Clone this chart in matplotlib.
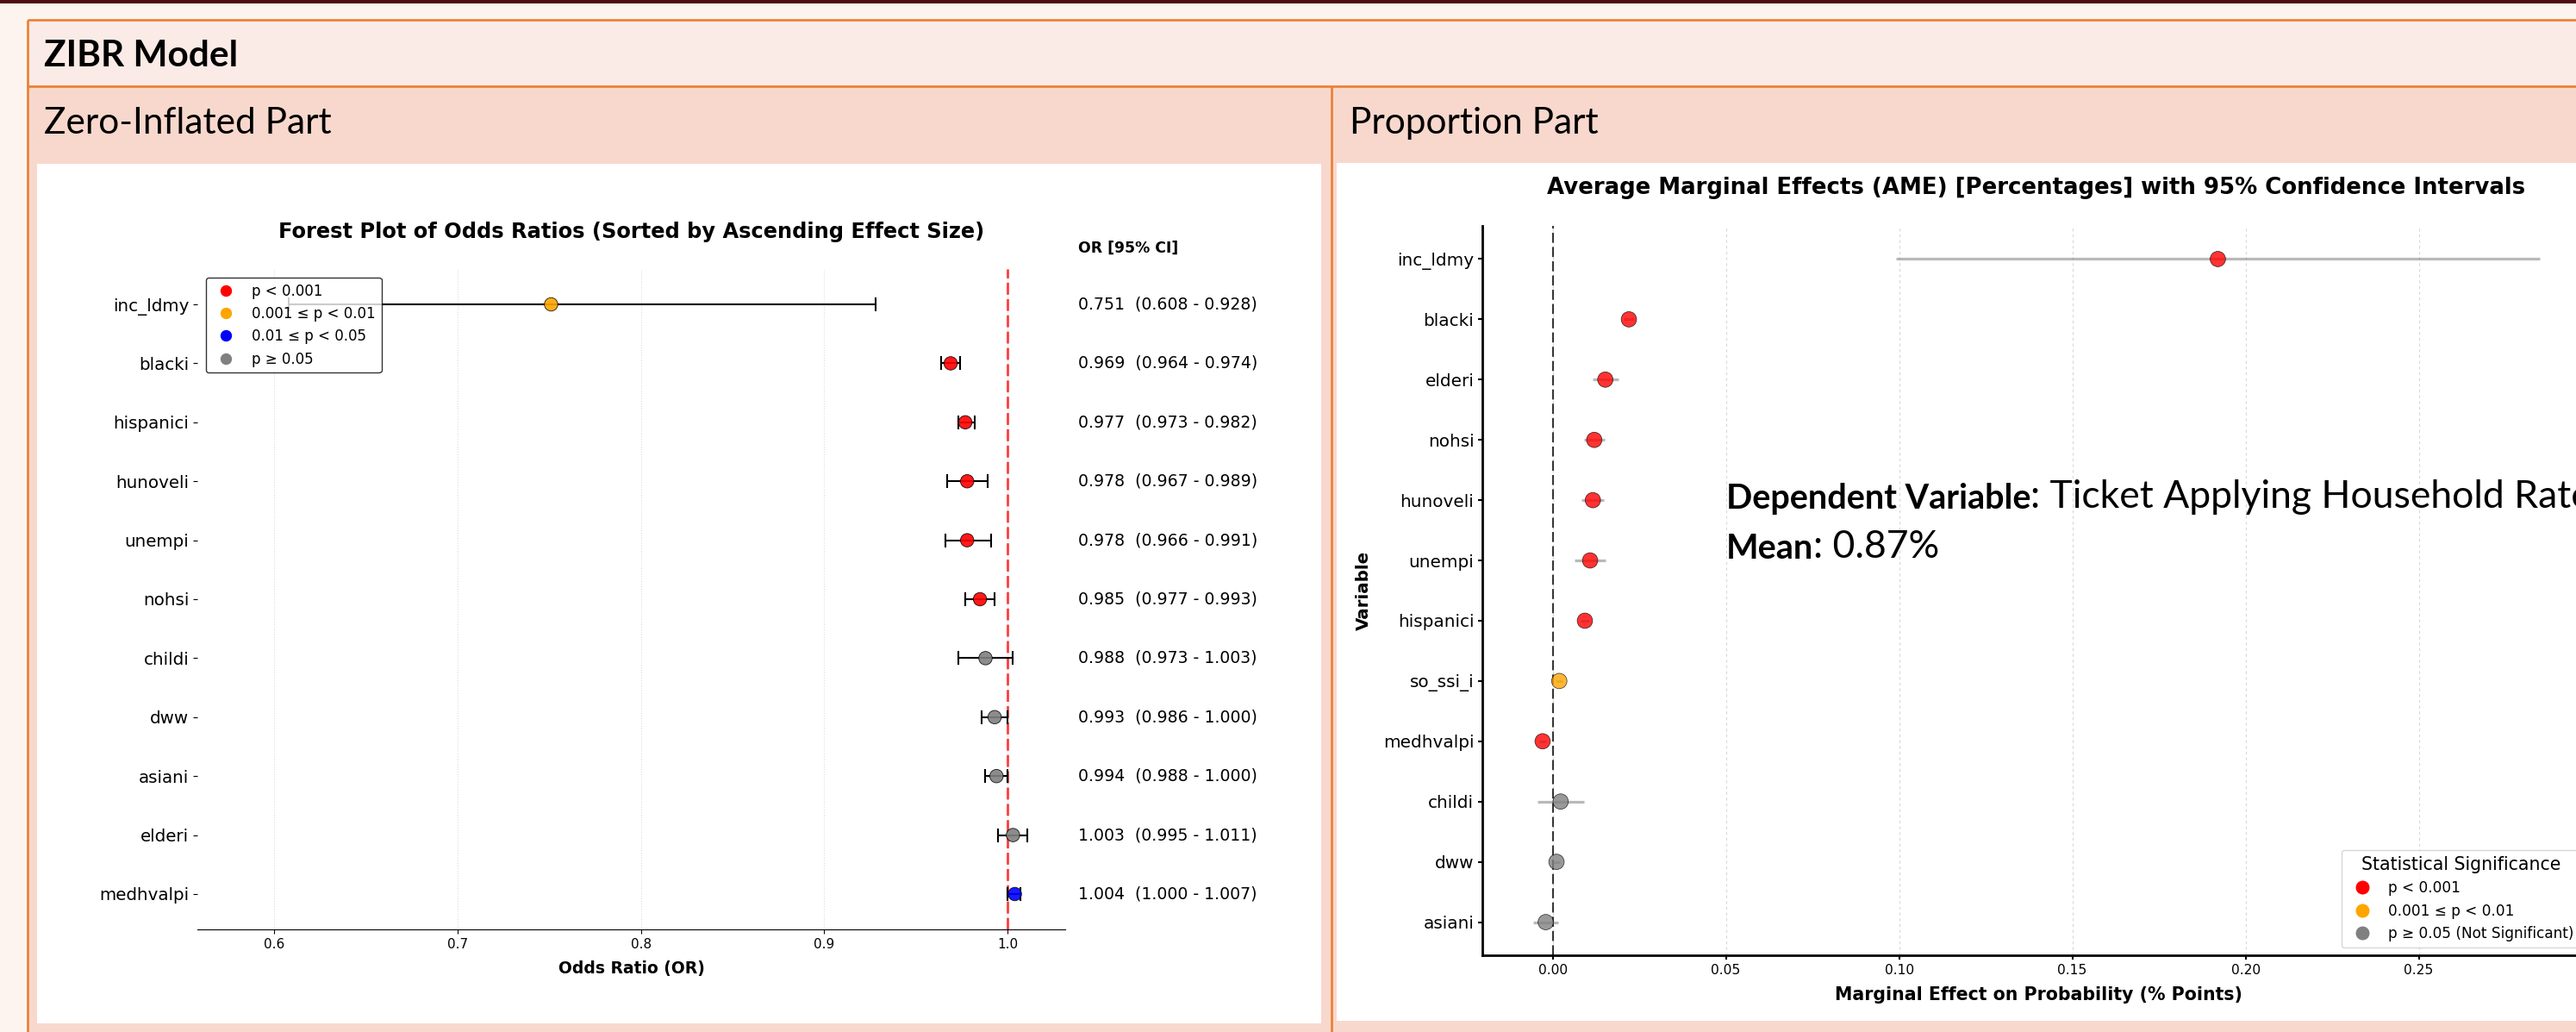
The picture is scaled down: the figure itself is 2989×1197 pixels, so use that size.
import numpy as np
import matplotlib.pyplot as plt
import matplotlib.transforms as mtransforms
from matplotlib.patches import Rectangle
from matplotlib.lines import Line2D

W, H = 2989, 1197
DPI = 100

# ---- zero-inflated part: odds ratios (sorted ascending) ----
or_vars = ['inc_ldmy', 'blacki', 'hispanici', 'hunoveli', 'unempi', 'nohsi',
           'childi', 'dww', 'asiani', 'elderi', 'medhvalpi']
or_est = [0.751, 0.969, 0.977, 0.978, 0.978, 0.985, 0.988, 0.993, 0.994, 1.003, 1.004]
or_low = [0.608, 0.964, 0.973, 0.967, 0.966, 0.977, 0.973, 0.986, 0.988, 0.995, 1.000]
or_high = [0.928, 0.974, 0.982, 0.989, 0.991, 0.993, 1.003, 1.000, 1.000, 1.011, 1.007]
or_sig = ['p01', 'p001', 'p001', 'p001', 'p001', 'p001', 'ns', 'ns', 'ns', 'ns', 'p05']

# ---- proportion part: average marginal effects ----
ame_vars = ['inc_ldmy', 'blacki', 'elderi', 'nohsi', 'hunoveli', 'unempi',
            'hispanici', 'so_ssi_i', 'medhvalpi', 'childi', 'dww', 'asiani']
ame_est = [0.192, 0.022, 0.0152, 0.012, 0.0116, 0.0108, 0.0093, 0.0019, -0.0029, 0.0023, 0.0011, -0.0020]
ame_err = [0.093, 0.0015, 0.0037, 0.0030, 0.0032, 0.0045, 0.0012, 0.0010, 0.0010, 0.0067, 0.0010, 0.0037]
ame_sig = ['p001', 'p001', 'p001', 'p001', 'p001', 'p001', 'p001', 'p01', 'p001', 'ns', 'ns', 'ns']

sig_colors = {'p001': 'red', 'p01': 'orange', 'p05': 'blue', 'ns': 'gray'}
or_legend = [('p001', 'p < 0.001'), ('p01', '0.001 ≤ p < 0.01'),
             ('p05', '0.01 ≤ p < 0.05'), ('ns', 'p ≥ 0.05')]
ame_legend = [('p001', 'p < 0.001'), ('p01', '0.001 ≤ p < 0.01'),
              ('ns', 'p ≥ 0.05 (Not Significant)')]

ORANGE = '#ED7D31'
SLIDE_FONT = 'Lato'


def px_box(x0, y0, x1, y1):
    # pixel box (top-left origin) -> figure fraction [l, b, w, h]
    return [x0 / W, 1 - y1 / H, (x1 - x0) / W, (y1 - y0) / H]


fig = plt.figure(figsize=(W / DPI, H / DPI), dpi=DPI)
fig.patch.set_facecolor('#FDF4EF')

# background slide/table layer in pixel coordinates
bg = fig.add_axes([0, 0, 1, 1])
bg.set_xlim(0, W)
bg.set_ylim(H, 0)
bg.axis('off')
bg.add_patch(Rectangle((0, 0), W, 3.5, color='#4F0A16', lw=0))
bg.add_patch(Rectangle((32, 22.5), W, 77.5, color='#FBEBE6', lw=0))
bg.add_patch(Rectangle((32, 100), W, H, color='#F8D8CD', lw=0))
bg.add_patch(Rectangle((43, 190), 1490, 997, color='white', lw=0))
bg.add_patch(Rectangle((1551, 189), W, 995, color='white', lw=0))
for xs, ys in [([32, W], [22.5, 22.5]), ([32, W], [100, 100]),
               ([32, 32], [22.5, H]), ([1545, 1545], [100, H])]:
    bg.plot(xs, ys, color=ORANGE, lw=1.9, solid_capstyle='butt')
bg.text(51, 77, 'ZIBR Model', fontsize=30.5, fontweight='bold', family=SLIDE_FONT, va='baseline')
bg.text(51, 155, 'Zero-Inflated Part', fontsize=30.5, family=SLIDE_FONT, va='baseline')
bg.text(1566, 155, 'Proportion Part', fontsize=30.5, family=SLIDE_FONT, va='baseline')

# ---- left chart: forest plot of odds ratios ----
ax1 = fig.add_axes(px_box(229, 312, 1236, 1078))
n1 = len(or_vars)
y1 = np.arange(n1)
est1 = np.array(or_est)
xerr1 = [est1 - np.array(or_low), np.array(or_high) - est1]
ax1.errorbar(est1, y1, xerr=xerr1, fmt='none', ecolor='black', elinewidth=1.5,
             capsize=5.5, capthick=1.5, zorder=2)
ax1.scatter(est1, y1, s=125, c=[sig_colors[s] for s in or_sig], edgecolors='black',
            linewidths=0.6, alpha=0.9, zorder=3)
ax1.axvline(1.0, color='red', ls=(0, (5, 1.8)), lw=2, alpha=0.75, zorder=1)
ax1.set_xlim(0.558, 1.0315)
ax1.set_ylim(n1 - 0.4, -0.6)
ax1.set_yticks(y1)
ax1.set_yticklabels(or_vars, fontsize=14.3)
ax1.tick_params(axis='x', labelsize=11)
ax1.grid(axis='x', ls=':', color='lightgray', alpha=0.8)
ax1.set_axisbelow(True)
for side in ['top', 'right', 'left']:
    ax1.spines[side].set_visible(False)
ax1.set_xlabel('Odds Ratio (OR)', fontsize=13.5, fontweight='bold')
ax1.xaxis.set_label_coords(0.5, -0.047)

side_tr = mtransforms.blended_transform_factory(ax1.transAxes, ax1.transData)
ax1.text(1.015, -0.95, 'OR [95% CI]', transform=side_tr, fontsize=12.4,
         fontweight='bold', va='center')
for yi, e, lo, hi in zip(y1, or_est, or_low, or_high):
    ax1.text(1.015, yi, f'{e:.3f}  ({lo:.3f} - {hi:.3f})', transform=side_tr,
             fontsize=13.6, va='center')

h1 = [Line2D([], [], marker='o', ls='', color=sig_colors[k], markersize=8.6) for k, _ in or_legend]
ax1.legend(h1, [lab for _, lab in or_legend], loc='upper left', fontsize=12,
           bbox_to_anchor=(0.0099, 0.987), borderaxespad=0, framealpha=0.8,
           edgecolor='black')

# ---- right chart: average marginal effects ----
ax2 = fig.add_axes(px_box(1720, 262, 3010, 1108))
n2 = len(ame_vars)
y2 = np.arange(n2)
ax2.errorbar(ame_est, y2, xerr=ame_err, fmt='none', ecolor='gray', elinewidth=2.3,
             alpha=0.55, zorder=2)
ax2.scatter(ame_est, y2, s=165, c=[sig_colors[s] for s in ame_sig], edgecolors='black',
            linewidths=0.5, alpha=0.8, zorder=3)
ax2.axvline(0, color='black', ls=(0, (6, 2.5)), lw=1.4, alpha=0.8, zorder=1)
ax2.set_xlim(-0.0203, 0.3006)
ax2.set_ylim(n2 - 0.45, -0.55)
ax2.set_yticks(y2)
ax2.set_yticklabels(ame_vars, fontsize=14.4)
ax2.tick_params(axis='x', labelsize=11.2, width=1.5)
ax2.tick_params(axis='y', width=1.5)
ax2.grid(axis='x', ls=(0, (3, 3)), color='#d8d8d8', lw=0.8)
ax2.set_axisbelow(True)
for side in ['top', 'right']:
    ax2.spines[side].set_visible(False)
for side in ['left', 'bottom']:
    ax2.spines[side].set_linewidth(2)
ax2.set_xlabel('Marginal Effect on Probability (% Points)', fontsize=14.8, fontweight='bold')
ax2.xaxis.set_label_coords(0.5, -0.0426)
ax2.set_ylabel('Variable', fontsize=14.3, fontweight='bold')
ax2.yaxis.set_label_coords(-0.0996, 0.5)

h2 = [Line2D([], [], marker='o', ls='', color=sig_colors[k], markersize=10.5) for k, _ in ame_legend]
ax2.legend(h2, [lab for _, lab in ame_legend], title='Statistical Significance',
           fontsize=12.2, title_fontsize=14.8, loc='lower left',
           bbox_to_anchor=(2717 / W, 1 - 1099 / H), bbox_transform=fig.transFigure,
           borderaxespad=0, framealpha=0.8)

# ---- overlay layer: chart titles and slide text box ----
top = fig.add_axes([0, 0, 1, 1], zorder=5)
top.set_xlim(0, W)
top.set_ylim(H, 0)
top.axis('off')
top.text(732.5, 269, 'Forest Plot of Odds Ratios (Sorted by Ascending Effect Size)',
         ha='center', va='center', fontsize=17.4, fontweight='bold')
top.text(2362.5, 218, 'Average Marginal Effects (AME) [Percentages] with 95% Confidence Intervals',
         ha='center', va='center', fontsize=18.7, fontweight='bold')

dv = top.text(2003, 590, 'Dependent Variable', fontsize=28.5, fontweight='bold',
              family=SLIDE_FONT, va='baseline')
top.annotate(': Ticket Applying Household Rate', xy=(1, 0), xycoords=dv,
             fontsize=32, family=SLIDE_FONT, va='bottom', annotation_clip=False)
mn = top.text(2003, 648, 'Mean', fontsize=28.5, fontweight='bold',
              family=SLIDE_FONT, va='baseline')
top.annotate(': 0.87%', xy=(1, 0), xycoords=mn, fontsize=32, family=SLIDE_FONT,
             va='bottom', annotation_clip=False)

fig.savefig('out.png', dpi=DPI)
